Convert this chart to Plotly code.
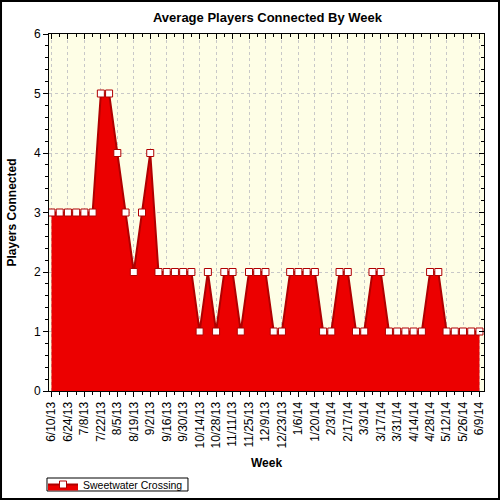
import plotly.graph_objects as go

weeks = [
    "6/10/13", "6/17/13", "6/24/13", "7/1/13", "7/8/13", "7/15/13", "7/22/13",
    "7/29/13", "8/5/13", "8/12/13", "8/19/13", "8/26/13", "9/2/13", "9/9/13",
    "9/16/13", "9/23/13", "9/30/13", "10/7/13", "10/14/13", "10/21/13",
    "10/28/13", "11/4/13", "11/11/13", "11/18/13", "11/25/13", "12/2/13",
    "12/9/13", "12/16/13", "12/23/13", "12/30/13", "1/6/14", "1/13/14",
    "1/20/14", "1/27/14", "2/3/14", "2/10/14", "2/17/14", "2/24/14", "3/3/14",
    "3/10/14", "3/17/14", "3/24/14", "3/31/14", "4/7/14", "4/14/14",
    "4/21/14", "4/28/14", "5/5/14", "5/12/14", "5/19/14", "5/26/14",
    "6/2/14", "6/9/14",
]
players = [
    3, 3, 3, 3, 3, 3, 5, 5, 4, 3, 2, 3, 4, 2, 2, 2, 2, 2, 1, 2, 1, 2, 2, 1,
    2, 2, 2, 1, 1, 2, 2, 2, 2, 1, 1, 2, 2, 1, 1, 2, 2, 1, 1, 1, 1, 1, 2, 2,
    1, 1, 1, 1, 1,
]
series_name = "Sweetwater Crossing"

idx = list(range(len(weeks)))
font = "Liberation Sans, Arial, sans-serif"
x_range = [-0.3, 52.55]
y_range = [0, 6]

fig = go.Figure()
fig.add_trace(go.Scatter(
    x=idx, y=players, name=series_name, mode="lines+markers",
    fill="tozeroy", fillcolor="#EC0000",
    line=dict(color="#B00000", width=2),
    marker=dict(symbol="square", size=7, color="white",
                line=dict(color="#B00000", width=1)),
))
# empty trace so the top/right tick axes get drawn
fig.add_trace(go.Scatter(x=[None], y=[None], xaxis="x2", yaxis="y2",
                         showlegend=False, hoverinfo="skip"))

grid = dict(showgrid=True, gridcolor="#C8C8C8", griddash="dot", gridwidth=1)

fig.update_layout(
    width=500, height=500,
    margin=dict(l=49, r=16, t=34, b=109),
    paper_bgcolor="white", plot_bgcolor="#FEFEE6",
    font=dict(family=font, size=12, color="black"),
    title=dict(text="<b>Average Players Connected By Week</b>",
               x=0.535, xanchor="center", y=0.966, yanchor="middle",
               font=dict(size=13)),
    showlegend=True,
    legend=dict(orientation="h", xref="container", yref="container",
                x=0.086, xanchor="left", y=0.031, yanchor="middle",
                bgcolor="rgba(0,0,0,0)", borderwidth=0,
                font=dict(size=10.5), itemwidth=30, tracegroupgap=0),
    shapes=[
        # outer frame
        dict(type="rect", xref="paper", yref="paper",
             x0=-0.1103, x1=1.0345, y0=-0.3025, y1=1.0924,
             line=dict(color="black", width=2)),
        # legend frame
        dict(type="rect", xref="paper", yref="paper",
             x0=-0.0046, x1=0.3195, y0=-0.2801, y1=-0.2437,
             line=dict(color="black", width=1)),
    ],
    xaxis=dict(
        range=x_range, tickmode="array", tickvals=idx[::2],
        ticktext=weeks[::2], tickangle=-90, tickfont=dict(size=12),
        ticks="outside", ticklen=5, tickcolor="black", automargin=False,
        showline=True, linecolor="black", linewidth=1, mirror=True,
        zeroline=False, **grid,
        minor=dict(tickmode="array", tickvals=idx[1::2], ticks="outside",
                   ticklen=3, tickcolor="black", showgrid=False),
        title=dict(text="<b>Week</b>", font=dict(size=12), standoff=14),
    ),
    yaxis=dict(
        range=y_range, tickmode="linear", tick0=0, dtick=1,
        ticks="outside", ticklen=5, tickcolor="black", automargin=False,
        showline=True, linecolor="black", linewidth=1, mirror=True,
        zeroline=False, **grid,
        minor=dict(dtick=0.2, ticks="outside", ticklen=3, tickcolor="black",
                   showgrid=False),
        title=dict(text="<b>Players Connected</b>", font=dict(size=12),
                   standoff=14),
    ),
    # inward ticks on the top and right edges
    xaxis2=dict(overlaying="x", anchor="y", side="top", range=x_range,
                tickmode="array", tickvals=idx[::2], showticklabels=False,
                ticks="inside", ticklen=5, tickcolor="black",
                showgrid=False, zeroline=False, automargin=False,
                minor=dict(tickmode="array", tickvals=idx[1::2],
                           ticks="inside", ticklen=3, tickcolor="black")),
    yaxis2=dict(overlaying="y", anchor="x", side="right", range=y_range,
                tickmode="linear", tick0=0, dtick=1, showticklabels=False,
                ticks="inside", ticklen=5, tickcolor="black",
                showgrid=False, zeroline=False, automargin=False,
                minor=dict(dtick=0.2, ticks="inside", ticklen=3,
                           tickcolor="black")),
)

fig.write_html("out.html", config={"displayModeBar": False},
               post_script="document.body.style.margin='0';")
